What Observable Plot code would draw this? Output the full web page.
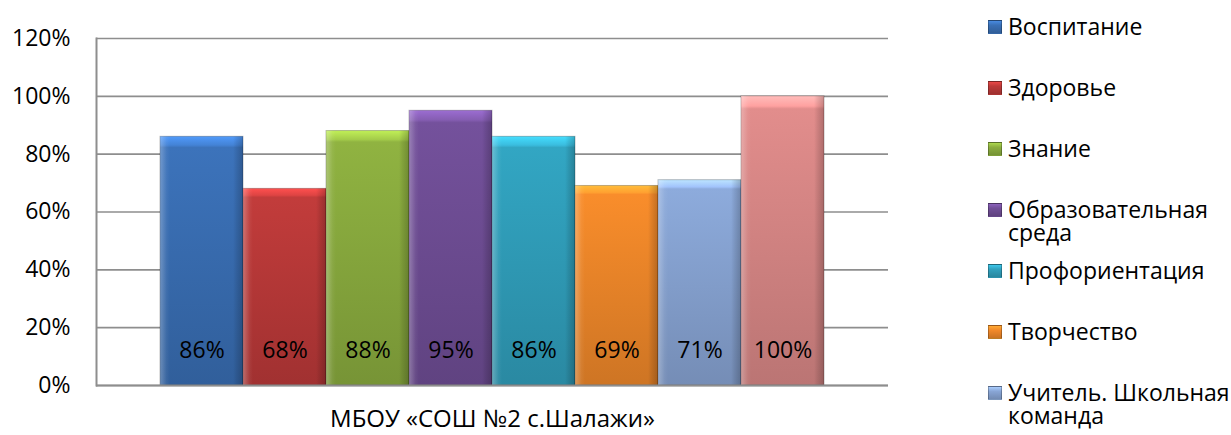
<!DOCTYPE html>
<html>
<head>
<meta charset="utf-8">
<script src="https://cdn.jsdelivr.net/npm/d3@7"></script>
<script src="https://cdn.jsdelivr.net/npm/@observablehq/plot@0.6"></script>
<style>
  html, body { margin: 0; padding: 0; background: #fff; }
  body { width: 1231px; height: 435px; position: relative; overflow: hidden; font-family: "Open Sans", sans-serif; }
  #chart { position: absolute; left: 0; top: 0; }
  #legend { position: absolute; left: 988px; top: 0; width: 243px; }
  .li { position: absolute; left: 0; display: flex; align-items: flex-start; font-size: 23px; line-height: 23px; color: #000; }
  .sw { width: 14px; height: 14px; margin-top: 5px; margin-right: 6px; flex: none; box-sizing: border-box; border: 1px solid rgba(0,0,0,0.25); }
  .lt { width: 222px; }
</style>
</head>
<body>
<svg width="0" height="0" style="position:absolute" id="defs"><defs></defs></svg>
<div id="chart"></div>
<div id="legend"></div>
<script>
const school = "МБОУ «СОШ №2 с.Шалажи»";
const series = ["Воспитание", "Здоровье", "Знание", "Образовательная среда", "Профориентация", "Творчество", "Учитель. Школьная команда", "Школьный климат"];
const values = [0.86, 0.68, 0.88, 0.95, 0.86, 0.69, 0.71, 1.00];
const colors = ["#3a70b6", "#bd3a39", "#8cae3f", "#714f98", "#31a1be", "#f2892a", "#89a6d6", "#dc8988"];
const yTicks = [0, 0.2, 0.4, 0.6, 0.8, 1.0, 1.2];

// gradients (bevelled look)
const defs = d3.select("#defs defs");
colors.forEach((c, i) => {
  const base = d3.color(c);
  const g = defs.append("linearGradient").attr("id", "g" + i).attr("x1", 0).attr("y1", 0).attr("x2", 0).attr("y2", 1);
  g.append("stop").attr("offset", 0).attr("stop-color", base.brighter(0.9).formatHex());
  g.append("stop").attr("offset", 0.035).attr("stop-color", base.brighter(0.45).formatHex());
  g.append("stop").attr("offset", 0.045).attr("stop-color", base.brighter(0.08).formatHex());
  g.append("stop").attr("offset", 1).attr("stop-color", base.darker(0.45).formatHex());
});
const h = defs.append("linearGradient").attr("id", "hov").attr("x1", 0).attr("y1", 0).attr("x2", 1).attr("y2", 0);
h.append("stop").attr("offset", 0).attr("stop-color", "#fff").attr("stop-opacity", 0.28);
h.append("stop").attr("offset", 0.08).attr("stop-color", "#fff").attr("stop-opacity", 0.05);
h.append("stop").attr("offset", 0.12).attr("stop-color", "#fff").attr("stop-opacity", 0);
h.append("stop").attr("offset", 0.88).attr("stop-color", "#000").attr("stop-opacity", 0);
h.append("stop").attr("offset", 0.92).attr("stop-color", "#000").attr("stop-opacity", 0.08);
h.append("stop").attr("offset", 1).attr("stop-color", "#000").attr("stop-opacity", 0.22);

const data = series.map((s, i) => ({school, series: s, value: values[i], fill: `url(#g${i})`}));

const chart = Plot.plot({
  width: 940,
  height: 435,
  marginLeft: 96,
  marginRight: 52,
  marginTop: 38,
  marginBottom: 50,
  style: {fontFamily: "Open Sans, sans-serif", fontSize: "23px", color: "#000", background: "transparent", overflow: "visible"},
  fx: {domain: [school], padding: 0, label: null, axis: null},
  x: {domain: series, axis: null, paddingInner: 0, paddingOuter: 0.72, align: 0.5},
  y: {domain: [0, 1.2], label: null},
  color: {type: "identity"},
  marks: [
    Plot.gridY(yTicks, {stroke: "#8e8e8e", strokeOpacity: 1, strokeWidth: 1.6}),
    Plot.barY(data, {fx: "school", x: "series", y: "value", fill: "fill", stroke: "#000", strokeOpacity: 0.25, strokeWidth: 1}),
    Plot.barY(data, {fx: "school", x: "series", y: "value", fill: () => "url(#hov)"}),
    Plot.text(data, {fx: "school", x: "series", y: () => 0, dy: -35, text: d => d3.format(".0%")(d.value), fill: "#000", fontSize: 23}),
    Plot.ruleY([0], {stroke: "#8e8e8e", strokeWidth: 2}),
    Plot.frame({anchor: "left", stroke: "#8e8e8e", strokeWidth: 2}),
    Plot.axisY({ticks: yTicks, tickFormat: d3.format(".0%"), tickSize: 0, tickPadding: 26, fontSize: 23, label: null}),
    Plot.axisFx({anchor: "bottom", tickSize: 0, tickPadding: 24, fontSize: 24, label: null})
  ]
});
document.getElementById("chart").appendChild(chart);

const legend = d3.select("#legend");
series.forEach((s, i) => {
  const item = legend.append("div").attr("class", "li").style("top", (15 + i * 61) + "px");
  item.append("div").attr("class", "sw").style("background", `linear-gradient(${d3.color(colors[i]).brighter(0.6)}, ${colors[i]} 35%, ${d3.color(colors[i]).darker(0.5)})`);
  item.append("div").attr("class", "lt").text(s);
});
</script>
</body>
</html>
